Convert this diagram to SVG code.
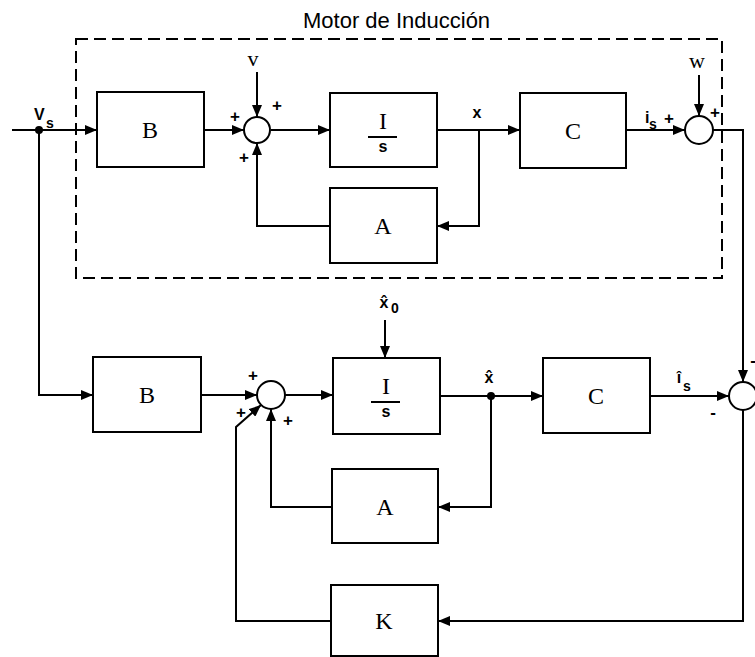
<svg xmlns="http://www.w3.org/2000/svg" width="755" height="657" viewBox="0 0 755 657">
<style>
.ln{fill:none;stroke:#000;stroke-width:2}
.arr{marker-end:url(#ah)}
.box{fill:#fff;stroke:#000;stroke-width:2}
.sum{fill:#fff;stroke:#000;stroke-width:2}
.blab{font-family:"Liberation Serif",serif;font-size:24px;text-anchor:middle}
.sig{font-family:"Liberation Sans",Arial,sans-serif;font-weight:bold;font-size:16px}
.sub{font-family:"Liberation Sans",Arial,sans-serif;font-weight:bold;font-size:14px}
.ser{font-family:"Liberation Serif",serif;font-size:22px;text-anchor:middle}
.pm{font-family:"Liberation Sans",Arial,sans-serif;font-weight:bold;font-size:17px;text-anchor:middle}
.ttl{font-family:"Liberation Sans",Arial,sans-serif;font-size:22px}
</style>
<defs>
<marker id="ah" markerUnits="userSpaceOnUse" markerWidth="12" markerHeight="10" refX="12" refY="5" orient="auto">
<path d="M0,0 L12,5 L0,10 z" fill="#000"/>
</marker>
</defs>

<g id="motor-frame">
<rect x="76" y="39" width="646" height="239" fill="none" stroke="#000" stroke-width="2" stroke-dasharray="12,6"/>
<text class="ttl" x="303" y="28">Motor de Inducción</text>
</g>

<g id="connectors">
<path class="ln arr" d="M12,130 H97"/>
<path class="ln arr" d="M204,130 H244"/>
<path class="ln arr" d="M257,72 V117"/>
<path class="ln arr" d="M271,130 H330"/>
<path class="ln arr" d="M437,130 H520"/>
<path class="ln arr" d="M479,130 V226 H437"/>
<path class="ln arr" d="M330,226 H257 V143"/>
<path class="ln arr" d="M626,130 H685"/>
<path class="ln arr" d="M699,75 V116"/>
<path class="ln arr" d="M713,130 H743 V382"/>
<path class="ln arr" d="M39,130 V395 H93"/>
<path class="ln arr" d="M201,395 H257"/>
<path class="ln arr" d="M331,621 H236 V427 L261,405"/>
<path class="ln arr" d="M332,507 H271 V409"/>
<path class="ln arr" d="M285,395 H333"/>
<path class="ln arr" d="M385,320 V358"/>
<path class="ln arr" d="M440,396 H543"/>
<path class="ln arr" d="M491,396 V507 H438"/>
<path class="ln arr" d="M650,396 H729"/>
<path class="ln arr" d="M743,410 V621 H438"/>
<circle cx="39" cy="130" r="4" fill="#000"/>
<circle cx="491" cy="396" r="4" fill="#000"/>
</g>

<g id="B1"><rect class="box" x="97" y="92" width="107" height="75"/><text class="blab" x="150" y="138">B</text></g>
<g id="sum1"><circle class="sum" cx="257" cy="130" r="13"/></g>
<g id="I1"><rect class="box" x="330" y="93" width="107" height="74"/><text class="blab" x="383" y="129">I</text><line x1="368" y1="137" x2="397" y2="137" stroke="#000" stroke-width="2"/><text class="sig" x="383" y="152" text-anchor="middle" font-size="16">s</text></g>
<g id="A1"><rect class="box" x="330" y="188" width="107" height="75"/><text class="blab" x="383" y="234">A</text></g>
<g id="C1"><rect class="box" x="520" y="93" width="106" height="75"/><text class="blab" x="573" y="139">C</text></g>
<g id="sum2"><circle class="sum" cx="699" cy="130" r="14"/></g>

<g id="B2"><rect class="box" x="93" y="357" width="108" height="75"/><text class="blab" x="147" y="403">B</text></g>
<g id="sum3"><circle class="sum" cx="271" cy="395" r="14"/></g>
<g id="I2"><rect class="box" x="333" y="358" width="107" height="76"/><text class="blab" x="386" y="394">I</text><line x1="371" y1="402" x2="400" y2="402" stroke="#000" stroke-width="2"/><text class="sig" x="386" y="417" text-anchor="middle" font-size="16">s</text></g>
<g id="A2"><rect class="box" x="332" y="469" width="106" height="74"/><text class="blab" x="385" y="515">A</text></g>
<g id="C2"><rect class="box" x="543" y="358" width="107" height="75"/><text class="blab" x="596" y="404">C</text></g>
<g id="sum4"><circle class="sum" cx="743" cy="396" r="14"/></g>
<g id="K"><rect class="box" x="331" y="585" width="107" height="71"/><text class="blab" x="384" y="629">K</text></g>

<g id="labels">
<text class="sig" x="34" y="120" font-size="17">V</text><text class="sub" x="46" y="128">s</text>
<text class="ser" x="253" y="66">v</text>
<text class="pm" x="235" y="122">+</text>
<text class="pm" x="277" y="111">+</text>
<text class="pm" x="244" y="163">+</text>
<text class="sig" x="477" y="118" text-anchor="middle" font-size="18">x</text>
<text class="sig" x="645" y="123" font-size="17">i</text><text class="sub" x="649" y="129">s</text>
<text class="pm" x="669" y="124">+</text>
<text class="ser" x="697" y="68">w</text>
<text class="pm" x="715" y="118">+</text>
<text class="pm" x="253" y="381">+</text>
<text class="pm" x="241" y="418">+</text>
<text class="pm" x="288" y="426">+</text>
<text class="sig" x="384" y="308" text-anchor="middle" font-size="18">x̂</text><text class="sub" x="391" y="313" font-size="14">0</text>
<text class="sig" x="489" y="383" text-anchor="middle" font-size="18">x̂</text>
<text class="sig" x="679" y="383" text-anchor="middle" font-size="18">î</text><text class="sub" x="683" y="391">s</text>
<text class="pm" x="713" y="418">-</text>
<text class="pm" x="753" y="366">-</text>
</g>
</svg>
